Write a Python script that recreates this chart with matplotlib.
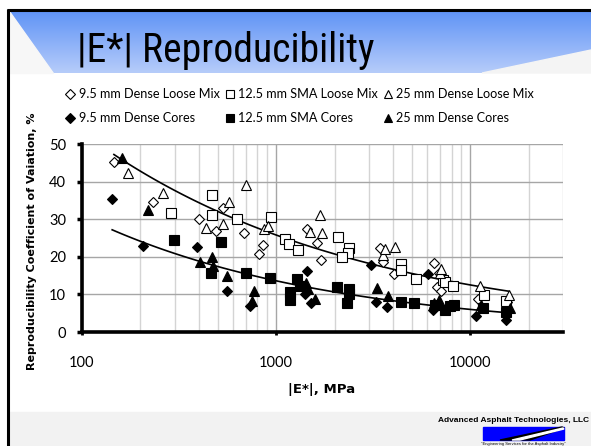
import numpy as np
import matplotlib
matplotlib.use("Agg")
import matplotlib.pyplot as plt
from matplotlib.patches import Polygon, Rectangle

# ---------------- data ----------------
dl_E = [146, 233, 401, 492, 533, 684, 817, 855, 1440, 1620, 1700, 3440, 3540, 4040, 6480, 6930, 6750, 7070, 11000, 15400]
dl_CV = [45.3, 34.5, 30.0, 26.9, 32.9, 26.2, 20.7, 23.1, 27.3, 23.8, 19.1, 22.3, 18.6, 15.3, 18.4, 15.7, 12.1, 10.8, 8.8, 7.9]

sl_E = [289, 468, 468, 630, 944, 1110, 1165, 1290, 2080, 2360, 2340, 2190, 4370, 4370, 5260, 7260, 7400, 8180, 11700, 15250]
sl_CV = [31.7, 36.4, 31.1, 30.0, 30.5, 24.7, 23.3, 21.8, 25.2, 22.3, 20.9, 19.9, 18.1, 16.5, 14.0, 13.8, 13.2, 12.2, 9.8, 8.3]

tl_E = [172, 262, 433, 533, 572, 703, 869, 912, 1500, 1676, 1726, 3540, 3614, 4100, 6960, 7070, 11250, 15740]
tl_CV = [42.2, 36.9, 27.6, 28.6, 34.7, 39.1, 27.3, 28.2, 26.7, 31.1, 26.4, 20.5, 22.0, 22.5, 15.6, 16.7, 12.2, 9.8]

dc_E = [143, 207, 393, 561, 731, 1400, 1440, 1518, 3080, 3250, 3720, 6080, 6450, 10700, 15250]
dc_CV = [35.3, 23.0, 22.5, 11.0, 7.0, 10.1, 16.3, 7.6, 17.8, 7.9, 6.7, 15.3, 5.9, 4.3, 3.2]

sc_E = [298, 464, 522, 697, 927, 1173, 1183, 1279, 1321, 2056, 2370, 2370, 2312, 4400, 5115, 6600, 7410, 7870, 8240, 11660, 15250]
sc_CV = [24.5, 15.8, 24.0, 15.8, 14.4, 10.6, 8.5, 14.0, 12.3, 11.9, 11.4, 10.1, 7.6, 8.1, 7.6, 7.3, 5.9, 7.0, 7.2, 6.3, 5.4]

tc_E = [160, 218, 405, 466, 473, 559, 768, 755, 1419, 1465, 1578, 3313, 3757, 6530, 6930, 11350, 16070]
tc_CV = [46.2, 32.4, 18.7, 20.0, 17.6, 14.9, 11.0, 8.2, 12.9, 11.4, 8.8, 11.6, 9.7, 7.6, 8.5, 7.2, 6.3]

labels = ["9.5 mm Dense Loose Mix", "12.5 mm SMA Loose Mix", "25 mm Dense Loose Mix",
          "9.5 mm Dense Cores", "12.5 mm SMA Cores", "25 mm Dense Cores"]
x_ticks = [100, 1000, 10000]
y_ticks = [0, 10, 20, 30, 40, 50]

W, H = 591, 446
fig = plt.figure(figsize=(W / 100, H / 100), dpi=100)
fig.patch.set_facecolor("white")

# ---------------- slide background ----------------
bg = fig.add_axes([0, 0, 1, 1], zorder=0)
bg.set_xlim(0, W)
bg.set_ylim(H, 0)
bg.axis("off")

grad = np.linspace(0, 1, 64)[:, None]
top = np.array([96, 148, 246]) / 255
bot = np.array([182, 204, 250]) / 255
img = top[None, None, :] * (1 - grad[:, :, None]) + bot[None, None, :] * grad[:, :, None]
bg.imshow(img, extent=[9, W, 73, 11], aspect="auto", zorder=1, interpolation="bilinear")
bg.add_patch(Polygon([[9, 11], [9, 73], [53, 73]], closed=True, color="#F7F7F7", zorder=2))
bg.add_patch(Polygon([[482, 73], [W, 50], [W, 73]], closed=True, color="#F4F4F4", zorder=2))
bg.add_patch(Rectangle((9, 412), W - 9, H - 412, color="#F2F2F2", zorder=1))
bg.plot([8, 8], [9, H], color="black", lw=2.2, zorder=3, solid_capstyle="butt")
bg.plot([7, W], [10, 10], color="black", lw=2.2, zorder=3, solid_capstyle="butt")

bg.text(77, 62, "|E*| Reproducibility", fontsize=28.5,
        family=["Roboto Condensed", "Open Sans Condensed", "DejaVu Sans"], fontstretch="condensed",
        va="baseline", ha="left", color="black", zorder=4)

# footer logo
bg.text(589, 420, "Advanced Asphalt Technologies, LLC", fontsize=6.0, fontweight="bold",
        family="Liberation Sans", va="center", ha="right", zorder=4)
bg.add_patch(Rectangle((483, 427), 81, 13, color="#0000FF", zorder=3))
bg.add_patch(Polygon([[500, 440], [530, 440], [564, 428], [562, 427]], closed=True, color="black", zorder=4))
bg.add_patch(Polygon([[512, 440], [520, 440], [564, 429], [563, 428]], closed=True, color="white", zorder=5))
bg.text(523, 444.5, "\"Engineering Services for the Asphalt Industry\"", fontsize=3, family="Liberation Sans",
        va="center", ha="center", zorder=4)

# ---------------- chart ----------------
L, R, T, B = 82, 563, 144, 332
ax = fig.add_axes([L / W, 1 - B / H, (R - L) / W, (B - T) / H], zorder=2)
ax.set_facecolor("none")
ax.set_xscale("log")
ax.set_xlim(100, 30000)
ax.set_ylim(0, 50)

ax.set_yticks(y_ticks)
ax.set_xticks(x_ticks)
ax.set_xticklabels([str(v) for v in x_ticks])
ax.xaxis.set_minor_formatter(matplotlib.ticker.NullFormatter())
ax.xaxis.set_minor_locator(matplotlib.ticker.LogLocator(base=10, subs=np.arange(2, 10)))
ax.grid(True, which="major", axis="both", color="#A6A6A6", lw=1.0)
ax.grid(True, which="minor", axis="x", color="#D4D4D4", lw=1.0)
ax.set_axisbelow(True)

for s in ["top", "right"]:
    ax.spines[s].set_visible(False)
for s in ["left", "bottom"]:
    ax.spines[s].set_linewidth(2.6)
    ax.spines[s].set_color("black")

tickfont = ["Lato", "DejaVu Sans"]
ax.tick_params(axis="y", which="major", direction="out", length=3.5, width=2.5, pad=8,
               labelsize=10.5, color="black")
ax.tick_params(axis="x", which="major", direction="out", length=2, width=2, pad=15,
               labelsize=10.5, color="black")
ax.tick_params(axis="x", which="minor", length=0)
for lab in ax.get_xticklabels() + ax.get_yticklabels():
    lab.set_family(tickfont)

open_kw = dict(linestyle="none", markerfacecolor="white", markeredgecolor="black", markeredgewidth=0.8)
fill_kw = dict(linestyle="none", markerfacecolor="black", markeredgecolor="black", markeredgewidth=0.8)

h = []
h.append(ax.plot(dl_E, dl_CV, marker="D", markersize=5.5, label=labels[0], zorder=3, **open_kw)[0])
h.append(ax.plot(sl_E, sl_CV, marker="s", markersize=7, label=labels[1], zorder=3, **open_kw)[0])
h.append(ax.plot(tl_E, tl_CV, marker="^", markersize=7.5, label=labels[2], zorder=3, **open_kw)[0])
h.append(ax.plot(dc_E, dc_CV, marker="D", markersize=5.5, label=labels[3], zorder=3, **fill_kw)[0])
h.append(ax.plot(sc_E, sc_CV, marker="s", markersize=7, label=labels[4], zorder=3, **fill_kw)[0])
h.append(ax.plot(tc_E, tc_CV, marker="^", markersize=7.5, label=labels[5], zorder=3, **fill_kw)[0])

# power-law trend lines (Excel-style)
def power_fit(E, CV):
    E = np.asarray(E, float); CV = np.asarray(CV, float)
    b, a = np.polyfit(np.log(E), np.log(CV), 1)
    xs = np.logspace(np.log10(E.min()), np.log10(E.max()), 100)
    return xs, np.exp(a) * xs ** b

loose_E = dl_E + sl_E + tl_E
loose_CV = dl_CV + sl_CV + tl_CV
core_E = dc_E + sc_E + tc_E
core_CV = dc_CV + sc_CV + tc_CV
xs, ys = power_fit(loose_E, loose_CV)
ax.plot(xs, ys, color="black", lw=1.2, zorder=2)
xs, ys = power_fit(core_E, core_CV)
ax.plot(xs, ys, color="black", lw=1.2, zorder=2)

# legend (two rows, three columns)
legend_handles = [h[0], h[3], h[1], h[4], h[2], h[5]]
leg = fig.legend(legend_handles, [x.get_label() for x in legend_handles], ncol=3, loc="upper left",
                 bbox_to_anchor=(66 / W, 1 - 88 / H), frameon=False,
                 prop={"family": ["Lato", "DejaVu Sans"], "size": 9.1},
                 handlelength=0.7, handletextpad=0.3, columnspacing=0.45, markerscale=0.85,
                 labelspacing=0.95, borderaxespad=0, borderpad=0)

fig.text(32 / W, 1 - 241 / H, "Reproducibility Coefficient of Vaiation, %", rotation=90,
         ha="center", va="center", fontsize=8.0, fontweight="bold", family="DejaVu Sans")
fig.text(322 / W, 1 - 390 / H, "|E*|, MPa", ha="center", va="center", fontsize=9.5,
         fontweight="bold", family="DejaVu Sans")

fig.savefig("out.png", dpi=100, facecolor="white")
